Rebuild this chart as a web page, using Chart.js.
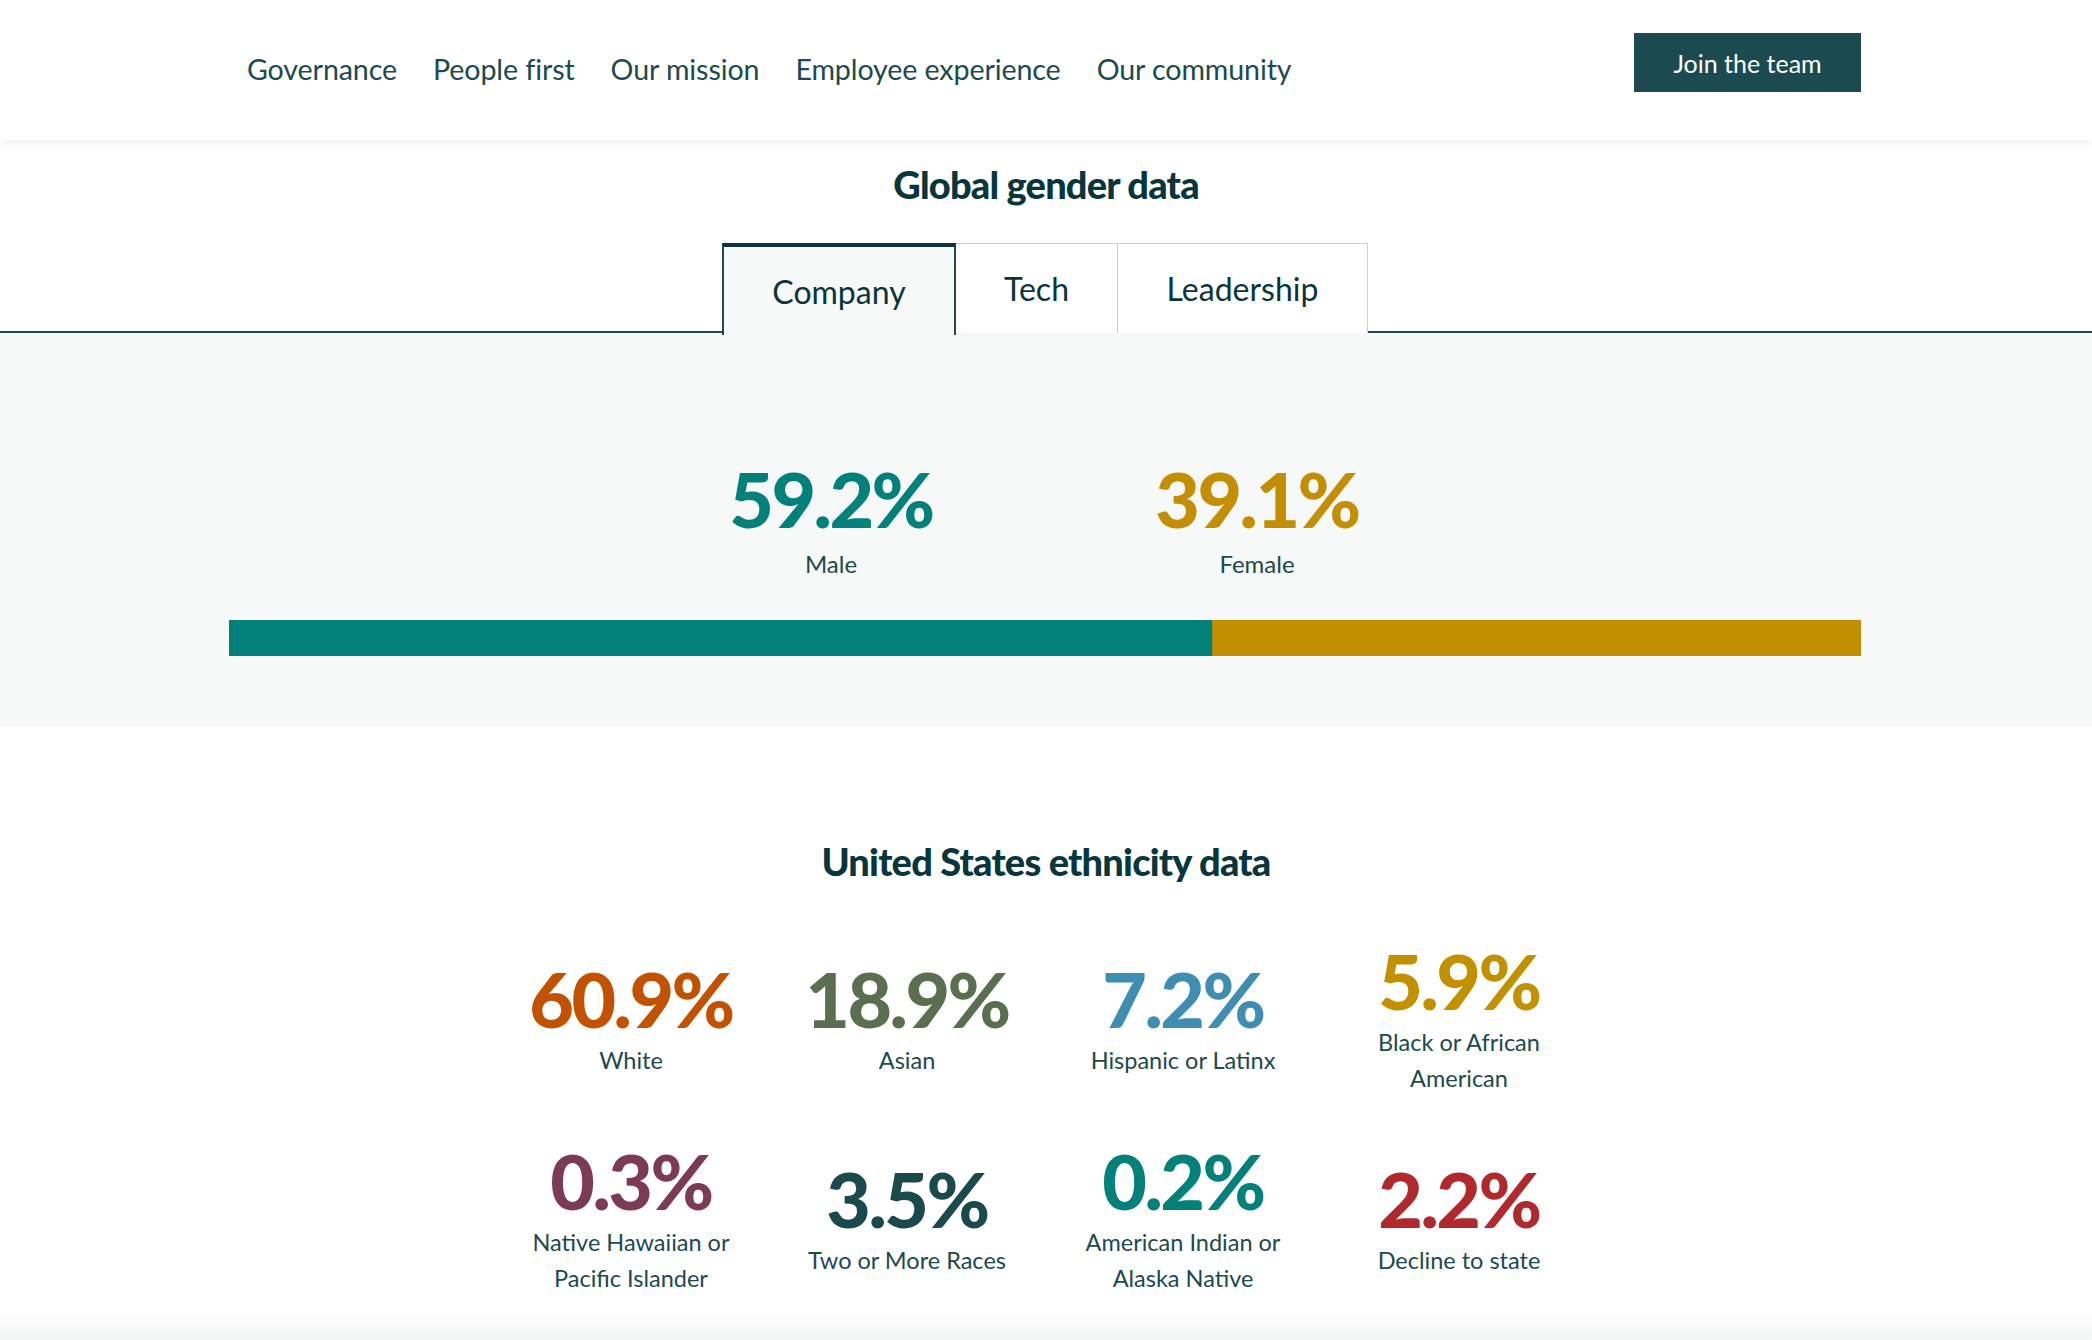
<!DOCTYPE html>
<html>
<head>
<meta charset="utf-8">
<script src="https://cdn.jsdelivr.net/npm/chart.js@4.4.1/dist/chart.umd.min.js"></script>
<style>
  html, body { margin: 0; padding: 0; }
  body { width: 2092px; height: 1340px; overflow: hidden; background: #fff; font-family: Lato, "Noto Sans", sans-serif; color: #0b3a40; position: relative; }
  .nav { position: absolute; left: 0; top: 0; width: 2092px; height: 140px; background: #fff; box-shadow: 0 3px 8px rgba(0,0,0,0.06); z-index: 2; }
  .nav .links { position: absolute; left: 247px; top: 52px; display: flex; gap: 36px; font-size: 28.6px; color: #1b4a4f; letter-spacing: -0.1px; }
  .nav .btn { position: absolute; left: 1634px; top: 33px; width: 227px; height: 59px; background: #1b4b50; color: #fff; font-size: 25px; display: flex; align-items: center; justify-content: center; }
  h2 { margin: 0; position: absolute; left: 0; width: 2092px; text-align: center; font-size: 38px; font-weight: 900; color: #08363c; letter-spacing: -0.8px; }
  .tabs { position: absolute; left: 0; top: 243px; width: 2092px; height: 90px; border-bottom: 2px solid #1d4a50; box-sizing: border-box; }
  .tab { position: absolute; top: 0; height: 90px; box-sizing: border-box; border: 1px solid #cfcfcf; border-bottom: none; background: #fff; font-size: 32px; display: flex; align-items: center; justify-content: center; color: #08363c; }
  .tab.active { border: 2px solid #1d4a50; border-top: 4px solid #08363c; border-bottom: none; background: #f7f9f8; height: 92px; z-index: 1; }
  .gray { position: absolute; left: 0; top: 333px; width: 2092px; height: 394px; background: #f7f9f8; }
  .big { position: absolute; width: 400px; text-align: center; font-weight: 900; font-size: 77px; letter-spacing: -2.5px; }
  .lab { position: absolute; width: 400px; text-align: center; font-size: 24px; color: #1b4a4f; }
  #barWrap { position: absolute; left: 229px; top: 620px; width: 1632px; height: 36px; }
  .grid { position: absolute; left: 493px; top: 916px; display: grid; grid-template-columns: repeat(4, 276px); grid-auto-rows: 200px; }
  .cell { display: flex; flex-direction: column; align-items: center; justify-content: center; text-align: center; }
  .cell .n { font-weight: 900; font-size: 77px; letter-spacing: -2.5px; line-height: 88px; }
  .cell .t { font-size: 23.5px; line-height: 36px; color: #1b4a4f; max-width: 230px; }
  .fade { position: absolute; left: 0; top: 1310px; width: 2092px; height: 30px; background: linear-gradient(#ffffff, #f3f4f4); }
</style>
</head>
<body>
<div class="nav">
  <div class="links"><span>Governance</span><span>People first</span><span>Our mission</span><span>Employee experience</span><span>Our community</span></div>
  <div class="btn">Join the team</div>
</div>

<h2 style="top:161px">Global gender data</h2>
<div class="tabs">
  <div class="tab active" style="left:722px;width:234px">Company</div>
  <div class="tab" style="left:955px;width:163px">Tech</div>
  <div class="tab" style="left:1117px;width:251px">Leadership</div>
</div>

<div class="gray"></div>
<div id="genderText"></div>
<div id="barWrap"><canvas id="genderBar"></canvas></div>

<h2 style="top:838px">United States ethnicity data</h2>
<div class="grid" id="ethGrid"></div>
<div class="fade"></div>

<script>
// gender data
const genderLabels = ['Male', 'Female'];
const genderValues = [59.2, 39.1];
const genderColors = ['#02807a', '#c38e02'];

// ethnicity data
const ethLabels = [
  'White', 'Asian', 'Hispanic or Latinx', 'Black or African American',
  'Native Hawaiian or Pacific Islander', 'Two or More Races', 'American Indian or Alaska Native', 'Decline to state'
];
const ethValues = [60.9, 18.9, 7.2, 5.9, 0.3, 3.5, 0.2, 2.2];
const ethColors = ['#c25200', '#5a6e50', '#3f8db0', '#c39000', '#7b3b57', '#1b4a4c', '#02807a', '#b0292d'];

// big numbers above the bar
const centers = [831, 1257];
let html = '';
genderValues.forEach(function(v, i) {
    html += '<div class="big" style="left:' + (centers[i] - 200) + 'px;top:452px;color:' + genderColors[i] + '">' + v.toFixed(1) + '%</div>';
    html += '<div class="lab" style="left:' + (centers[i] - 200) + 'px;top:549px">' + genderLabels[i] + '</div>';
});
document.querySelector('#genderText').innerHTML = html;

// stacked bar
const ctx = document.querySelector('#genderBar');
const total = genderValues.reduce(function(a, b) { return a + b; }, 0);

new Chart(ctx, {
    type: 'bar',
    data: {
        labels: ['Company'],
        datasets: genderLabels.map(function(l, i) {
            return {
                label: l,
                data: [genderValues[i]],
                backgroundColor: genderColors[i],
                borderWidth: 0,
                barPercentage: 1,
                categoryPercentage: 1
            };
        })
    },
    options: {
        indexAxis: 'y',
        responsive: true,
        maintainAspectRatio: false,
        animation: false,
        layout: { padding: 0 },
        plugins: { legend: { display: false }, tooltip: { enabled: false } },
        scales: {
            x: { stacked: true, display: false, min: 0, max: total },
            y: { stacked: true, display: false }
        }
    }
});

// ethnicity grid
let g = '';
ethValues.forEach(function(v, i) {
    g += '<div class="cell"><div class="n" style="color:' + ethColors[i] + '">' + v.toFixed(1) + '%</div>' +
         '<div class="t">' + ethLabels[i] + '</div></div>';
});
document.querySelector('#ethGrid').innerHTML = g;
</script>
</body>
</html>
